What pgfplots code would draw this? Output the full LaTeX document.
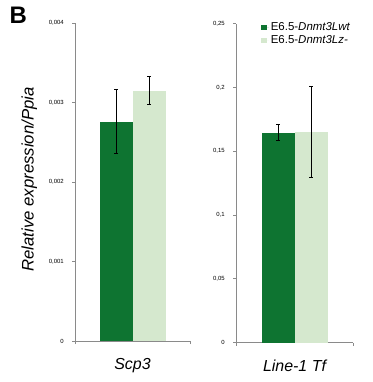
\documentclass[border=0pt]{standalone}
\usepackage{pgfplots}
\pgfplotsset{compat=1.18}
\usepackage{fontspec}
\setmainfont{Liberation Sans}
\definecolor{dk}{HTML}{0E7431}
\definecolor{lt}{HTML}{D5E8CE}
\definecolor{axc}{HTML}{8A8A8A}
\pgfplotsset{
  panel/.style={
    scale only axis,
    axis x line*=bottom, axis y line*=left,
    axis line style={axc, line width=0.8bp},
    every tick/.style={axc, line width=0.8bp},
    tick align=outside,
    major tick length=3bp,
    xmin=-1, xmax=1, ymin=0,
    xtick={-1,1}, xticklabels={},
    scaled y ticks=false,
    ybar=0pt, bar width=33bp,
    ticklabel style={font=\fontsize{6}{7}\selectfont},
    yticklabel style={inner sep=0pt, xshift=-8bp},
    error bars/error bar style={draw=black, line width=0.9bp},
    error bars/error mark options={rotate=90, mark size=1.8bp, draw=black, line width=0.9bp},
    clip=false,
  }
}
\begin{document}
\begin{tikzpicture}[x=1bp,y=1bp]
\path (0,0) rectangle (373,-382);
\node[anchor=base west, inner sep=0pt] at (9.5,-23) {\fontsize{24}{24}\selectfont\bfseries B};
\node[rotate=90, anchor=base, inner sep=0pt] at (33.5,-179.5) {\fontsize{16.8}{18}\selectfont\itshape Relative expression/Ppia};
\begin{axis}[panel,
  at={(75bp,-341bp)}, anchor=south west,
  width=115bp, height=318bp,
  ymax=0.004,
  ytick={0,0.001,0.002,0.003,0.004},
  yticklabels={0,{0,001},{0,002},{0,003},{0,004}},
]
\addplot[fill=dk, draw=none, error bars/.cd, y dir=both, y explicit]
  coordinates {(0,0.00276) +- (0,0.0004)};
\addplot[fill=lt, draw=none, error bars/.cd, y dir=both, y explicit]
  coordinates {(0,0.00315) +- (0,0.00018)};
\node[anchor=base, inner sep=0pt] at (axis description cs:0.5,0) [yshift=-28bp] {\fontsize{16}{18}\selectfont\itshape Scp3};
\end{axis}
\begin{axis}[panel,
  at={(236bp,-342.5bp)}, anchor=south west,
  width=117bp, height=319bp,
  ymax=0.25,
  ytick={0,0.05,0.1,0.15,0.2,0.25},
  yticklabels={0,{0,05},{0,1},{0,15},{0,2},{0,25}},
  legend style={draw=none, fill=none, at={(axis description cs:0.215,1.01)}, anchor=north west,
    font=\fontsize{11.5}{13}\selectfont, inner sep=0pt, row sep=0pt},
  legend cell align=left,
  legend image code/.code={\path[#1, draw=none] (0bp,-2.6bp) rectangle (5.2bp,2.6bp); \path (0bp,0bp) -- (7.5bp,0bp);},
]
\addplot[fill=dk, draw=none, error bars/.cd, y dir=both, y explicit]
  coordinates {(0,0.1645) +- (0,0.0061)};
\addlegendentry{E6.5-\textit{Dnmt3Lwt}}
\addplot[fill=lt, draw=none, error bars/.cd, y dir=both, y explicit]
  coordinates {(0,0.165) +- (0,0.036)};
\addlegendentry{E6.5-\textit{Dnmt3Lz-}}
\node[anchor=base, inner sep=0pt] at (axis description cs:0.5,0) [yshift=-28.5bp] {\fontsize{16}{18}\selectfont\itshape Line-1 Tf};
\end{axis}
\end{tikzpicture}
\end{document}
